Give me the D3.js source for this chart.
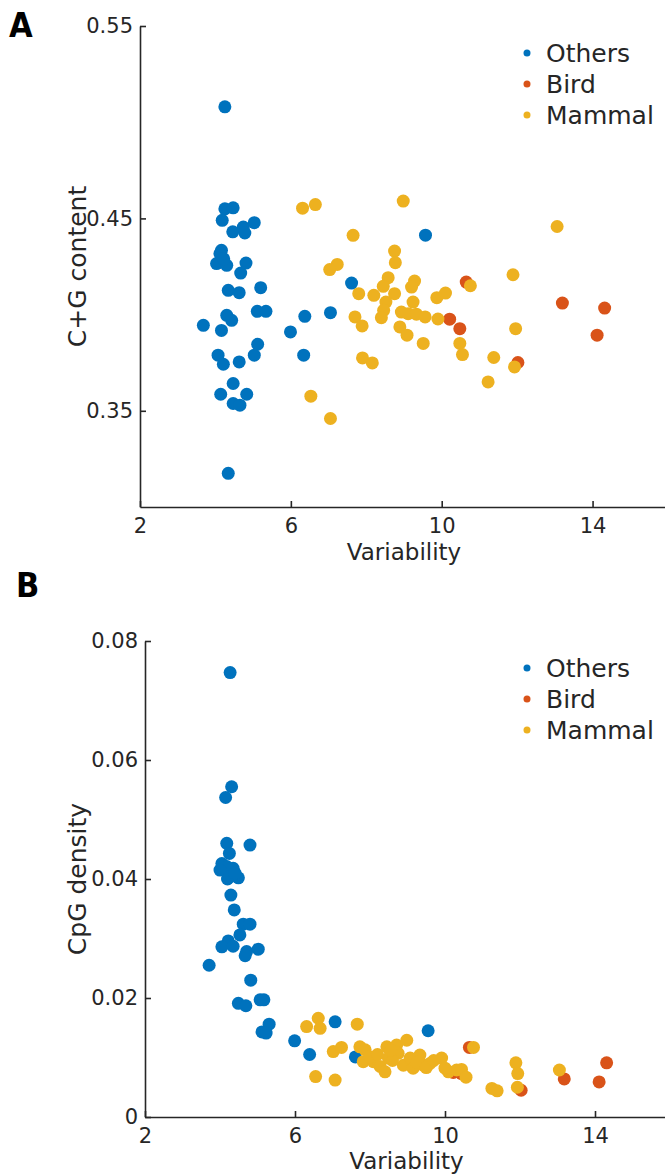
<!DOCTYPE html>
<html>
<head>
<meta charset="UTF-8">
<script src="https://d3js.org/d3.v7.min.js"></script>
<style>
  body { margin: 0; background: #fff; }
  svg text { font-family: "DejaVu Sans", sans-serif; fill: #262626; }
  .axis path, .axis line { stroke: #262626; stroke-width: 1.6px; }
  .tick text { font-size: 21px; }
  .panel-label { font-weight: bold; font-size: 34px; font-stretch: condensed; fill: #000; }
</style>
</head>
<body>
<svg width="665" height="1175"></svg>
<script>
// groups and colours (MATLAB default order)
const groups = ["Others", "Bird", "Mammal"];
const colors = ["#0072BD", "#D95319", "#EDB120"];

// panel A: variability vs C+G content
const aOthersX = [4.25,4.25,4.47,4.18,4.46,4.74,5.03,4.78,4.16,4.03,4.12,4.30,4.22,4.81,4.67,4.34,4.63,5.20,5.11,5.34,4.30,4.43,3.68,4.16,5.12,5.03,4.07,4.21,4.63,4.47,4.14,4.83,4.47,4.65,4.34,9.57,7.61,7.05,6.37,5.99,6.34];
const aOthersY = [0.508,0.455,0.4555,0.449,0.443,0.4455,0.4478,0.4424,0.4334,0.4265,0.4317,0.4256,0.4290,0.4268,0.4216,0.4126,0.4114,0.414,0.4017,0.4017,0.3996,0.397,0.3944,0.3918,0.3846,0.3789,0.3789,0.3742,0.3754,0.3642,0.3586,0.3586,0.3538,0.3529,0.3175,0.4413,0.4164,0.401,0.3991,0.391,0.3789];
const aBirdX = [10.65,10.21,10.48,13.20,14.32,14.12,12.02];
const aBirdY = [0.4169,0.3976,0.3927,0.406,0.4034,0.3893,0.3751];
const aMammalX = [6.31,6.65,8.98,7.65,8.75,8.77,7.23,7.03,8.58,8.45,9.28,9.20,7.80,8.20,8.75,8.52,8.46,8.40,10.10,9.87,9.24,8.93,9.11,9.33,9.56,9.90,7.70,7.89,8.89,9.08,9.51,10.48,10.55,7.90,8.16,6.53,7.05,10.76,13.06,11.89,11.96,11.38,11.93,11.23];
const aMammalY = [0.4553,0.4572,0.459,0.4412,0.433,0.427,0.4261,0.4234,0.4192,0.4147,0.4174,0.4143,0.4109,0.410,0.4109,0.4065,0.4022,0.3984,0.4112,0.4088,0.4065,0.4013,0.4005,0.4002,0.3988,0.3977,0.3988,0.3941,0.3936,0.3893,0.385,0.385,0.3792,0.3775,0.3749,0.3576,0.346,0.415,0.4458,0.4207,0.3927,0.3777,0.3728,0.3650];

// panel B: variability vs CpG density
const bOthersX = [4.27,4.31,4.15,4.18,4.80,4.25,4.05,4.18,4.35,4.00,4.27,4.49,4.20,4.29,4.38,4.62,4.80,4.53,4.22,4.05,4.35,4.71,4.67,5.02,3.71,4.82,4.49,4.69,5.07,5.17,5.31,5.12,5.23,5.99,6.39,7.07,9.55,7.61,4.40];
const bOthersY = [0.0747,0.0555,0.0537,0.0460,0.0457,0.0443,0.0426,0.0421,0.0418,0.0415,0.0404,0.0402,0.0400,0.0373,0.0348,0.0324,0.0324,0.0306,0.0296,0.0286,0.0287,0.0278,0.0271,0.0282,0.0255,0.0230,0.0191,0.0187,0.0197,0.0197,0.0156,0.0143,0.0141,0.0128,0.0105,0.0160,0.0145,0.0101,0.0410];
const bBirdX = [10.65,10.22,10.44,13.18,14.31,14.11,12.03];
const bBirdY = [0.0117,0.0075,0.0073,0.0064,0.0091,0.0059,0.0045];
const bMammalX = [6.31,6.62,6.67,7.66,7.02,7.24,6.55,7.07,7.73,7.87,7.82,8.09,8.27,8.45,8.49,8.40,8.71,8.75,8.98,8.89,9.07,9.15,9.33,9.42,9.60,9.91,10.09,10.31,8.00,10.76,10.44,10.56,11.25,11.39,11.89,11.94,11.93,13.05,8.60,9.25,9.50,8.20,9.70,10.00,8.55];
const bMammalY = [0.0152,0.0166,0.0149,0.0156,0.0110,0.0117,0.0068,0.0062,0.0118,0.0113,0.0093,0.0093,0.0085,0.0118,0.0099,0.0076,0.0121,0.0107,0.0129,0.0087,0.0099,0.0082,0.0104,0.0087,0.0090,0.0099,0.0076,0.0079,0.0101,0.0117,0.0080,0.0067,0.0048,0.0044,0.0091,0.0073,0.0050,0.0079,0.0095,0.0092,0.0083,0.0105,0.0095,0.0082,0.0112];

const xTicks = [2, 6, 10, 14];
const aYTicks = [0.35, 0.45, 0.55];
const bYTicks = [0, 0.02, 0.04, 0.06, 0.08];

const svg = d3.select("svg");

function zipPts(xs, ys, g) {
  return xs.map((v, i) => ({ x: v, y: ys[i], g: g }));
}

function drawPanel(opt) {
  const x = d3.scaleLinear().domain([2, 16]).range([opt.left, opt.right]);
  const y = d3.scaleLinear().domain(opt.yDomain).range([opt.bottom, opt.top]);
  const g = svg.append("g");

  // x axis, ticks inward
  g.append("g")
    .attr("class", "axis")
    .attr("transform", "translate(0," + opt.bottom + ")")
    .call(d3.axisBottom(x).tickValues(xTicks).tickSizeInner(-6).tickSizeOuter(0).tickPadding(11))
    .call(a => a.selectAll(".tick text").attr("dy", "0.71em"));

  // y axis
  g.append("g")
    .attr("class", "axis")
    .attr("transform", "translate(" + opt.left + ",0)")
    .call(d3.axisLeft(y).tickValues(opt.yTicks).tickFormat(opt.fmt).tickSizeInner(-6).tickSizeOuter(0).tickPadding(7));

  // points: others first, then bird, then mammal on top
  const pts = [].concat(
    zipPts(opt.data[0][0], opt.data[0][1], 0),
    zipPts(opt.data[1][0], opt.data[1][1], 1),
    zipPts(opt.data[2][0], opt.data[2][1], 2)
  );
  g.append("g").selectAll("circle")
    .data(pts)
    .enter().append("circle")
    .attr("cx", d => x(d.x))
    .attr("cy", d => y(d.y))
    .attr("r", 6.5)
    .attr("fill", d => colors[d.g]);

  // axis titles
  g.append("text")
    .attr("x", (opt.left + 668) / 2)
    .attr("y", opt.bottom + opt.xLabelGap)
    .attr("text-anchor", "middle")
    .style("font-size", "23px")
    .text("Variability");
  g.append("text")
    .attr("transform", "translate(86," + (opt.top + opt.bottom) / 2 + ") rotate(-90)")
    .attr("text-anchor", "middle")
    .style("font-size", "25px")
    .text(opt.yLabel);

  // legend
  const lg = g.append("g").attr("transform", "translate(527," + opt.legendTop + ")");
  groups.forEach((name, i) => {
    lg.append("circle").attr("cx", 0).attr("cy", i * 31).attr("r", 3.5).attr("fill", colors[i]);
    lg.append("text").attr("x", 19).attr("y", i * 31).attr("dy", "0.36em")
      .style("font-size", "25px").text(name);
  });

  // panel letter
  g.append("text").attr("class", "panel-label")
    .attr("x", opt.letterX).attr("y", opt.letterY).text(opt.letter);
}

drawPanel({
  letter: "A", letterX: 9, letterY: 37,
  left: 140, right: 668, top: 26, bottom: 507,
  yDomain: [0.30, 0.55], yTicks: aYTicks, fmt: d3.format(".2f"),
  yLabel: "C+G content", legendTop: 53, xLabelGap: 53,
  data: [[aOthersX, aOthersY], [aBirdX, aBirdY], [aMammalX, aMammalY]]
});

drawPanel({
  letter: "B", letterX: 16, letterY: 597,
  left: 145, right: 670, top: 641, bottom: 1117,
  yDomain: [0, 0.08], yTicks: bYTicks, fmt: d => d === 0 ? "0" : d3.format(".2f")(d),
  yLabel: "CpG density", legendTop: 668, xLabelGap: 52,
  data: [[bOthersX, bOthersY], [bBirdX, bBirdY], [bMammalX, bMammalY]]
});
</script>
</body>
</html>
